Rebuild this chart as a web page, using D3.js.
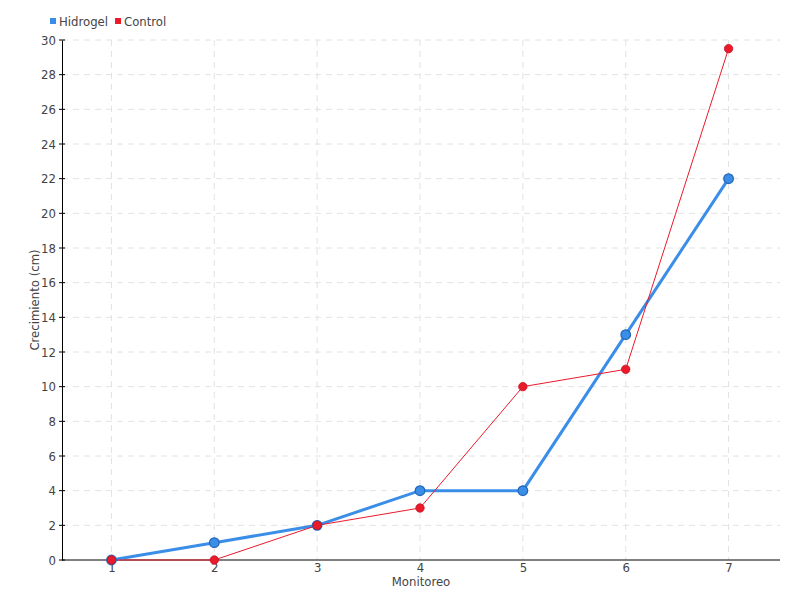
<!DOCTYPE html>
<html><head><meta charset="utf-8">
<script src="https://cdn.jsdelivr.net/npm/d3@7"></script>
<style>
body{margin:0;background:#fff;}
text{font-family:"DejaVu Sans Condensed","DejaVu Sans",sans-serif;fill:#444;}
</style></head>
<body><svg id="c" width="800" height="600"></svg>
<script>
const categories = ["1","2","3","4","5","6","7"];
const hidrogel = [0,1,2,4,4,13,22];
const control = [0,0,2,3,10,11,29.5];
const yTicks = d3.range(0,31,2);
const seriesNames = ["Hidrogel","Control"];
const colors = ["#3a8ee8","#ea1a2a"];

const svg = d3.select("#c");
const m = {l:62,r:20,t:40,b:40};
const W=800,H=600;
const x = d3.scalePoint().domain(categories).range([60, W-m.r]).padding(0.5);
const y = d3.scaleLinear().domain([0,30]).range([H-m.b, m.t]);

const g = svg.append("g");
g.selectAll(".hg").data(yTicks.filter(d=>d>0)).enter().append("line")
 .attr("x1",m.l).attr("x2",W-m.r).attr("y1",d=>y(d)).attr("y2",d=>y(d))
 .attr("stroke","#e2e2e2").attr("stroke-dasharray","6,5").attr("stroke-width",1);
g.selectAll(".vg").data(categories).enter().append("line")
 .attr("x1",d=>x(d)).attr("x2",d=>x(d)).attr("y1",m.t).attr("y2",H-m.b)
 .attr("stroke","#e2e2e2").attr("stroke-dasharray","6,5").attr("stroke-width",1);

const ya = svg.append("g").attr("transform",`translate(${m.l},0)`)
 .call(d3.axisLeft(y).tickValues(yTicks).tickSize(0).tickPadding(6));
ya.select(".domain").attr("stroke","#000");
ya.selectAll("text").style("font-size","13px").attr("fill","#444");
ya.selectAll(".tk").data(yTicks).enter().append("line").attr("class","tk")
 .attr("x1",-3).attr("x2",3).attr("y1",d=>y(d)).attr("y2",d=>y(d)).attr("stroke","#000");

const xa = svg.append("g").attr("transform",`translate(0,${H-m.b})`)
 .call(d3.axisBottom(x).tickSize(0).tickPadding(3));
xa.select(".domain").attr("stroke","#000").attr("d",`M${m.l},0H${W-m.r}`);
xa.selectAll("text").style("font-size","13px").attr("fill","#444");

svg.append("text").attr("x",(m.l+W-m.r)/2).attr("y",586).attr("text-anchor","middle")
 .style("font-size","13px").text("Monitoreo");
svg.append("text").attr("transform",`translate(39,${(m.t+H-m.b)/2}) rotate(-90)`)
 .attr("text-anchor","middle").style("font-size","13px").text("Crecimiento (cm)");

const line = d3.line().x((d,i)=>x(categories[i])).y(d=>y(d));
svg.append("path").datum(hidrogel).attr("d",line).attr("fill","none")
 .attr("stroke",colors[0]).attr("stroke-width",3);
svg.append("path").datum(control).attr("d",line).attr("fill","none")
 .attr("stroke",colors[1]).attr("stroke-width",1);
svg.selectAll(".ph").data(hidrogel).enter().append("circle")
 .attr("cx",(d,i)=>x(categories[i])).attr("cy",d=>y(d)).attr("r",4.8)
 .attr("fill",colors[0]).attr("stroke","#2166b8").attr("stroke-width",1.2);
svg.selectAll(".pc").data(control).enter().append("circle")
 .attr("cx",(d,i)=>x(categories[i])).attr("cy",d=>y(d)).attr("r",4.2)
 .attr("fill",colors[1]).attr("stroke","#c8101e").attr("stroke-width",0.8);

const lg = svg.append("g");
let lx = 50;
seriesNames.forEach((n,i)=>{
  lg.append("rect").attr("x",lx).attr("y",18).attr("width",6).attr("height",6).attr("fill",colors[i]);
  const t = lg.append("text").attr("x",lx+9).attr("y",26).style("font-size","13px").text(n);
  lx += t.node().getComputedTextLength()+16;
});
</script></body></html>
